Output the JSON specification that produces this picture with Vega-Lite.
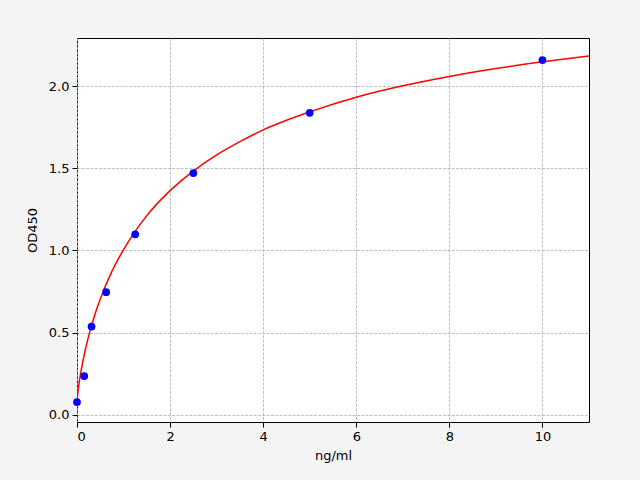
{
  "$schema": "https://vega.github.io/schema/vega-lite/v6.json",
  "width": 512,
  "height": 384,
  "autosize": "none",
  "padding": {"left": 77, "top": 38, "right": 51, "bottom": 58},
  "background": "#f4f4f4",
  "config": {
    "font": "DejaVu Sans",
    "view": {"fill": "white", "stroke": "black", "strokeWidth": 1},
    "axis": {
      "labelFont": "DejaVu Sans",
      "titleFont": "DejaVu Sans",
      "labelFontSize": 13,
      "titleFontSize": 13,
      "labelColor": "black",
      "titleColor": "black",
      "titleFontWeight": "normal",
      "domain": false,
      "tickColor": "black",
      "tickSize": 5,
      "tickWidth": 1,
      "grid": true,
      "gridColor": "#b0b0b0",
      "gridDash": [3, 1.3],
      "gridWidth": 0.8
    }
  },
  "datasets": {
    "standards": [
      {"conc": 0, "od": 0.078},
      {"conc": 0.156, "od": 0.236},
      {"conc": 0.3125, "od": 0.537},
      {"conc": 0.625, "od": 0.746},
      {"conc": 1.25, "od": 1.098},
      {"conc": 2.5, "od": 1.471},
      {"conc": 5, "od": 1.837},
      {"conc": 10, "od": 2.158}
    ],
    "curve": [
      {"conc": 0, "od": 0.08},
      {"conc": 0.02, "od": 0.141},
      {"conc": 0.05, "od": 0.204},
      {"conc": 0.1, "od": 0.288},
      {"conc": 0.15, "od": 0.359},
      {"conc": 0.2, "od": 0.422},
      {"conc": 0.3, "od": 0.531},
      {"conc": 0.4, "od": 0.624},
      {"conc": 0.5, "od": 0.705},
      {"conc": 0.75, "od": 0.873},
      {"conc": 1.0, "od": 1.005},
      {"conc": 1.25, "od": 1.116},
      {"conc": 1.5, "od": 1.212},
      {"conc": 2.0, "od": 1.364},
      {"conc": 2.5, "od": 1.483},
      {"conc": 3.0, "od": 1.581},
      {"conc": 3.5, "od": 1.662},
      {"conc": 4.0, "od": 1.733},
      {"conc": 5.0, "od": 1.843},
      {"conc": 6.0, "od": 1.932},
      {"conc": 7.0, "od": 2.001},
      {"conc": 8.0, "od": 2.058},
      {"conc": 9.0, "od": 2.106},
      {"conc": 10.0, "od": 2.147},
      {"conc": 11.0, "od": 2.183}
    ]
  },
  "encoding": {
    "x": {
      "field": "conc",
      "type": "quantitative",
      "title": "ng/ml",
      "scale": {"domain": [0, 11], "nice": false, "zero": false},
      "axis": {"values": [0, 2, 4, 6, 8, 10], "labelPadding": 3, "titlePadding": 6}
    },
    "y": {
      "field": "od",
      "type": "quantitative",
      "title": "OD450",
      "scale": {"domain": [-0.043, 2.292], "nice": false, "zero": false},
      "axis": {"values": [0, 0.5, 1, 1.5, 2], "format": ".1f", "labelPadding": 3, "titlePadding": 9}
    }
  },
  "layer": [
    {
      "data": {"name": "curve"},
      "mark": {"type": "line", "color": "red", "strokeWidth": 1.5, "interpolate": "monotone", "clip": true}
    },
    {
      "data": {"name": "standards"},
      "mark": {"type": "point", "filled": true, "color": "blue", "opacity": 1, "size": 60, "clip": false}
    }
  ]
}
